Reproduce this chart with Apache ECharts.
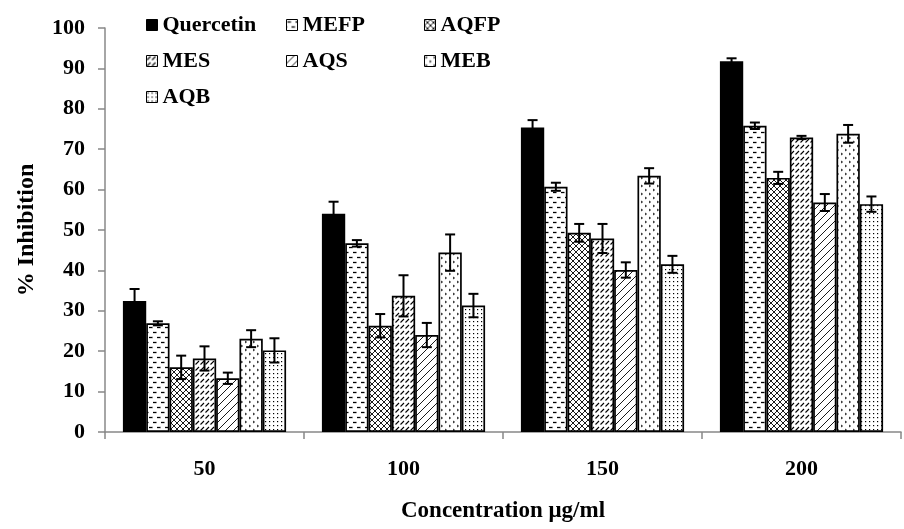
<!DOCTYPE html>
<html><head><meta charset="utf-8">
<script src="https://cdn.jsdelivr.net/npm/echarts@6/dist/echarts.min.js"></script>
<style>html,body{margin:0;padding:0;background:#fff}#c{width:904px;height:529px}</style>
</head><body><div id="c"></div>
<script>
const categories = ['50', '100', '150', '200'];
const seriesNames = ['Quercetin', 'MEFP', 'AQFP', 'MES', 'AQS', 'MEB', 'AQB'];
const quercetin = [32.4, 54.0, 75.4, 91.8];
const mefp = [26.9, 46.7, 60.7, 75.8];
const aqfp = [16.0, 26.3, 49.3, 62.9];
const mes = [18.2, 33.7, 47.9, 72.9];
const aqs = [13.3, 24.0, 40.1, 56.8];
const meb = [23.1, 44.4, 63.4, 73.8];
const aqb = [20.2, 31.3, 41.5, 56.4];
const quercetinErr = [3.0, 3.0, 1.8, 0.7];
const mefpErr = [0.5, 0.8, 1.0, 0.8];
const aqfpErr = [2.9, 2.9, 2.2, 1.5];
const mesErr = [3.0, 5.1, 3.6, 0.4];
const aqsErr = [1.4, 3.0, 1.9, 2.1];
const mebErr = [2.1, 4.5, 1.9, 2.2];
const aqbErr = [3.0, 2.9, 2.1, 1.9];
const yTicks = [0, 10, 20, 30, 40, 50, 60, 70, 80, 90, 100];

const values = [quercetin, mefp, aqfp, mes, aqs, meb, aqb];
const errors = [quercetinErr, mefpErr, aqfpErr, mesErr, aqsErr, mebErr, aqbErr];

function pat(w, h, draw) {
  const c = document.createElement('canvas');
  c.width = w; c.height = h;
  const ctx = c.getContext('2d');
  ctx.fillStyle = '#fff'; ctx.fillRect(0, 0, w, h);
  ctx.strokeStyle = '#000'; ctx.fillStyle = '#000'; ctx.lineWidth = 1;
  draw(ctx);
  return { image: c, repeat: 'repeat' };
}
function line(ctx, a, b, c, d) { ctx.beginPath(); ctx.moveTo(a, b); ctx.lineTo(c, d); ctx.stroke(); }
const fills = [
  '#000',
  pat(8, 10, ctx => { ctx.lineWidth = 1.3; line(ctx, 1, 2.5, 4.5, 2.5); line(ctx, 5, 7.5, 8, 7.5); line(ctx, 0, 7.5, 0.5, 7.5); }),
  pat(6, 6, ctx => { ctx.lineWidth = 0.9; line(ctx, 0, 0, 6, 6); line(ctx, 0, 6, 6, 0); line(ctx, -1, 5, 1, 7); line(ctx, 5, -1, 7, 1); line(ctx,-1,1,1,-1); line(ctx,5,7,7,5); }),
  pat(5, 6, ctx => { ctx.lineWidth = 1.1; line(ctx, 0.5, 4.5, 4, 1); }),
  pat(8, 8, ctx => { ctx.lineWidth = 0.9; line(ctx, 0, 8, 8, 0); line(ctx, -1, 1, 1, -1); line(ctx, 7, 9, 9, 7); }),
  pat(8, 8, ctx => { ctx.lineWidth = 0.9; line(ctx, 1, 1, 2.5, 2); line(ctx, 2.5, 2, 1, 3); line(ctx, 5, 5, 6.5, 6); line(ctx, 6.5, 6, 5, 7); }),
  pat(4, 4, ctx => { ctx.fillRect(1, 1, 1.2, 1.2); })
];

const font = 'Liberation Serif';
const series = seriesNames.map((n, i) => ({
  name: n, type: 'bar', data: values[i],
  barGap: '0%', barCategoryGap: '18%',
  itemStyle: { color: fills[i], borderColor: '#000', borderWidth: 1.7 },
  emphasis: { disabled: true }
}));
const errData = [];
values.forEach((arr, s) => arr.forEach((v, c) => errData.push([c, v, errors[s][c], s])));
series.push({
  type: 'custom', z: 10, silent: true,
  encode: { x: 0, y: 1 },
  data: errData,
  renderItem: function (params, api) {
    const c = api.value(0), v = api.value(1), e = api.value(2), s = api.value(3);
    const catW = api.size([1, 0])[0];
    const groupW = catW * (1 - 0.18);
    const bw = groupW / 7;
    const cx = api.coord([c, 0])[0] - groupW / 2 + (s + 0.5) * bw;
    const top = api.coord([c, v + e])[1];
    const bot = api.coord([c, v - e])[1];
    const cap = 5;
    const st = { stroke: '#000', lineWidth: 2 };
    return { type: 'group', children: [
      { type: 'line', shape: { x1: cx, y1: top, x2: cx, y2: bot }, style: st },
      { type: 'line', shape: { x1: cx - cap, y1: top, x2: cx + cap, y2: top }, style: st },
      { type: 'line', shape: { x1: cx - cap, y1: bot, x2: cx + cap, y2: bot }, style: st }
    ]};
  }
});

const legendBase = {
  orient: 'vertical', itemWidth: 11, itemHeight: 11, itemGap: 14,
  icon: 'rect', selectedMode: false,
  itemStyle: { borderColor: '#000', borderWidth: 1 },
  textStyle: { fontFamily: font, fontWeight: 'bold', fontSize: 22, color: '#000' }
};
const chart = echarts.init(document.getElementById('c'));
chart.setOption({
  animation: false,
  backgroundColor: '#fff',
  legend: [
    Object.assign({}, legendBase, { left: 141, top: 9, data: ['Quercetin', 'MES', 'AQB'] }),
    Object.assign({}, legendBase, { left: 281, top: 9, data: ['MEFP', 'AQS'] }),
    Object.assign({}, legendBase, { left: 419, top: 9, data: ['AQFP', 'MEB'] })
  ],
  grid: { left: 105, right: 3, top: 28, bottom: 97 },
  xAxis: {
    type: 'category', data: categories,
    name: 'Concentration μg/ml', nameLocation: 'middle', nameGap: 68,
    nameTextStyle: { fontFamily: font, fontWeight: 'bold', fontSize: 23, color: '#000' },
    axisLine: { lineStyle: { color: '#888', width: 1.5 } },
    axisTick: { show: true, length: 7, lineStyle: { color: '#888', width: 1.5 } },
    axisLabel: { fontFamily: font, fontWeight: 'bold', fontSize: 22, color: '#000', margin: 26 }
  },
  yAxis: {
    type: 'value', min: 0, max: 100, interval: 10,
    name: '% Inhibition', nameLocation: 'middle', nameGap: 66,
    nameTextStyle: { fontFamily: font, fontWeight: 'bold', fontSize: 24, color: '#000' },
    axisLine: { show: true, lineStyle: { color: '#888', width: 1.5 } },
    axisTick: { show: true, inside: false, length: 7, lineStyle: { color: '#888', width: 1.5 } },
    splitLine: { show: false },
    axisLabel: { fontFamily: font, fontWeight: 'bold', fontSize: 22, color: '#000', margin: 20,
      formatter: v => yTicks.indexOf(v) >= 0 ? String(v) : '' }
  },
  series: series
});
</script></body></html>
